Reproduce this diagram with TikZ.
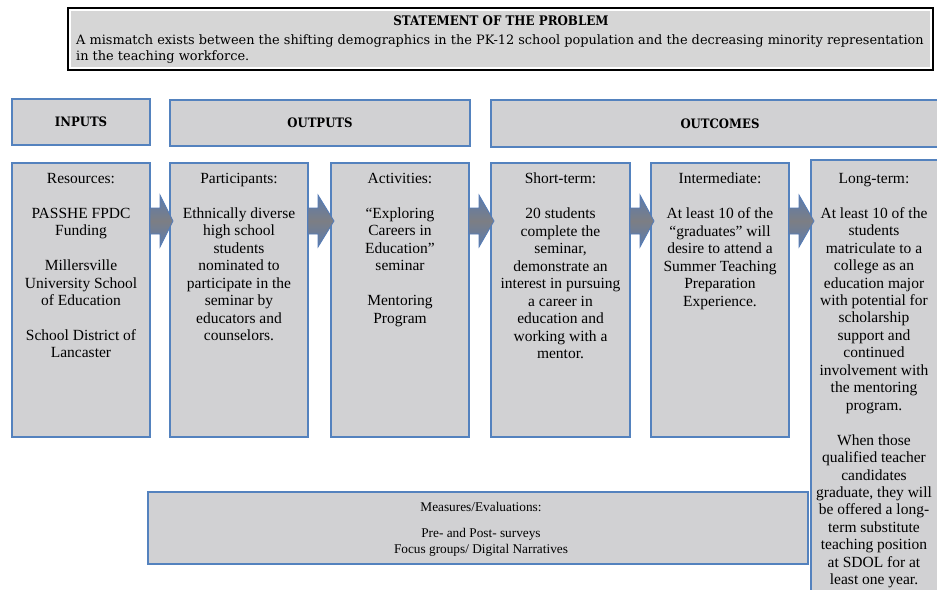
\documentclass[tikz,border=0pt]{standalone}
\usepackage{fontspec}
\setmainfont{Liberation Serif}
\newfontfamily\headfont{DejaVu Serif}[FakeStretch=0.9]
\newfontfamily\stmtfont{DejaVu Serif}
\usetikzlibrary{calc}

\definecolor{boxfill}{RGB}{209,209,211}
\definecolor{boxline}{RGB}{84,130,190}
\definecolor{arrowgray}{RGB}{124,126,132}
\definecolor{arrowblue}{RGB}{86,124,182}
\definecolor{stmtfill}{RGB}{214,214,214}

\tikzset{
  panel/.style={draw=boxline, line width=1.2pt, fill=boxfill, inner sep=0pt, outer sep=0pt, anchor=north west},
  headtext/.style={font=\headfont\bfseries\fontsize{13}{15}\selectfont, inner sep=0pt},
  coltext/.style={align=center, anchor=north, inner sep=0pt, font=\fontsize{15.5}{17.45}\selectfont},
  flowarrow/.style={draw=arrowblue, line width=0.8pt, top color=arrowblue!85!arrowgray, bottom color=arrowblue!85!arrowgray, middle color=arrowgray, line join=miter}
}

% block arrow from the east side of #1 to the west side of #2, on the row of (ay)
\newcommand\flowarrow[2]{%
  \path (#1.east |- ay) coordinate (s) (#2.west |- ay) coordinate (t);
  \path[flowarrow] ([yshift=13pt]s) -- ([xshift=10pt,yshift=13pt]s) -- ([xshift=10pt,yshift=26pt]s)
    -- ([xshift=3pt]t) -- ([xshift=10pt,yshift=-26pt]s) -- ([xshift=10pt,yshift=-13pt]s)
    -- ([yshift=-13pt]s) -- cycle;
}

\begin{document}
\begin{tikzpicture}[x=1pt,y=-1pt]
\useasboundingbox (0,0) rectangle (937,589);
\fill[white] (0,0) rectangle (937,589);
\clip (0,0) rectangle (937,589);

% problem statement
\node[draw=black, line width=1.8pt, fill=white, inner sep=0pt, anchor=north west,
      minimum width=865pt, minimum height=62pt] (stmt) at (67,7) {};
\fill[stmtfill] ([shift={(4pt,-4pt)}]stmt.north west) rectangle ([shift={(-4pt,4pt)}]stmt.south east);
\node[headtext, font=\headfont\bfseries\fontsize{13.2}{15}\selectfont] (stmt-title) at (501,21) {STATEMENT OF THE PROBLEM};
\node[anchor=north west, inner sep=0pt, align=left, font=\stmtfont\fontsize{12.9}{16}\selectfont] (stmt-text) at (76,34)
  {A mismatch exists between the shifting demographics in the PK-12 school population and the decreasing minority representation\\in the teaching workforce.};

% headers
\node[panel, minimum width=138pt, minimum height=46pt] (h-in) at (12,99) {};
\node[panel, minimum width=300pt, minimum height=46pt] (h-out) at (170,100) {};
\node[panel, minimum width=460pt, minimum height=47pt] (h-oc) at (491,100) {};
\node[headtext] (h-in-t) at (h-in) {INPUTS};
\node[headtext] (h-out-t) at (h-out) {OUTPUTS};
\node[headtext] (h-oc-t) at (720,124) {OUTCOMES};

% arrows row
\coordinate (ay) at (0,221);

% column boxes
\node[panel, minimum width=138pt, minimum height=274pt] (res) at (12,163) {};
\node[panel, minimum width=138pt, minimum height=274pt] (par) at (170,163) {};
\node[panel, minimum width=138pt, minimum height=274pt] (act) at (331,163) {};
\node[panel, minimum width=139pt, minimum height=274pt] (sht) at (491,163) {};
\node[panel, minimum width=138pt, minimum height=274pt] (int) at (651,163) {};
\node[panel, minimum width=128pt, minimum height=440pt] (lng) at (811,160) {};

\flowarrow{res}{par}
\flowarrow{par}{act}
\flowarrow{act}{sht}
\flowarrow{sht}{int}
\flowarrow{int}{lng}

\node[coltext] (res-t) at (81,173) {Resources:\\[17.45pt]PASSHE FPDC\\Funding\\[17.45pt]Millersville\\University School\\of Education\\[17.45pt]School District of\\Lancaster};
\node[coltext] (par-t) at (239,173) {Participants:\\[17.45pt]Ethnically diverse\\high school\\students\\nominated to\\participate in the\\seminar by\\educators and\\counselors.};
\node[coltext] (act-t) at (400,173) {Activities:\\[17.45pt]``Exploring\\Careers in\\Education''\\seminar\\[17.45pt]Mentoring\\Program};
\node[coltext] (sht-t) at (560.5,173) {Short-term:\\[17.45pt]20 students\\complete the\\seminar,\\demonstrate an\\interest in pursuing\\a career in\\education and\\working with a\\mentor.};
\node[coltext] (int-t) at (720,173) {Intermediate:\\[17.45pt]At least 10 of the\\``graduates'' will\\desire to attend a\\Summer Teaching\\Preparation\\Experience.};
\node[coltext] (lng-t) at (874,173) {Long-term:\\[17.45pt]At least 10 of the\\students\\matriculate to a\\college as an\\education major\\with potential for\\scholarship\\support and\\continued\\involvement with\\the mentoring\\program.\\[17.45pt]When those\\qualified teacher\\candidates\\graduate, they will\\be offered a long-\\term substitute\\teaching position\\at SDOL for at\\least one year.};

% measures
\node[panel, minimum width=660pt, minimum height=72pt] (meas) at (148,492) {};
\node[coltext, font=\fontsize{13.3}{16}\selectfont] (meas-t) at (481,502) {Measures/Evaluations:\\[10pt]Pre- and Post- surveys\\Focus groups/ Digital Narratives};
\end{tikzpicture}
\end{document}
